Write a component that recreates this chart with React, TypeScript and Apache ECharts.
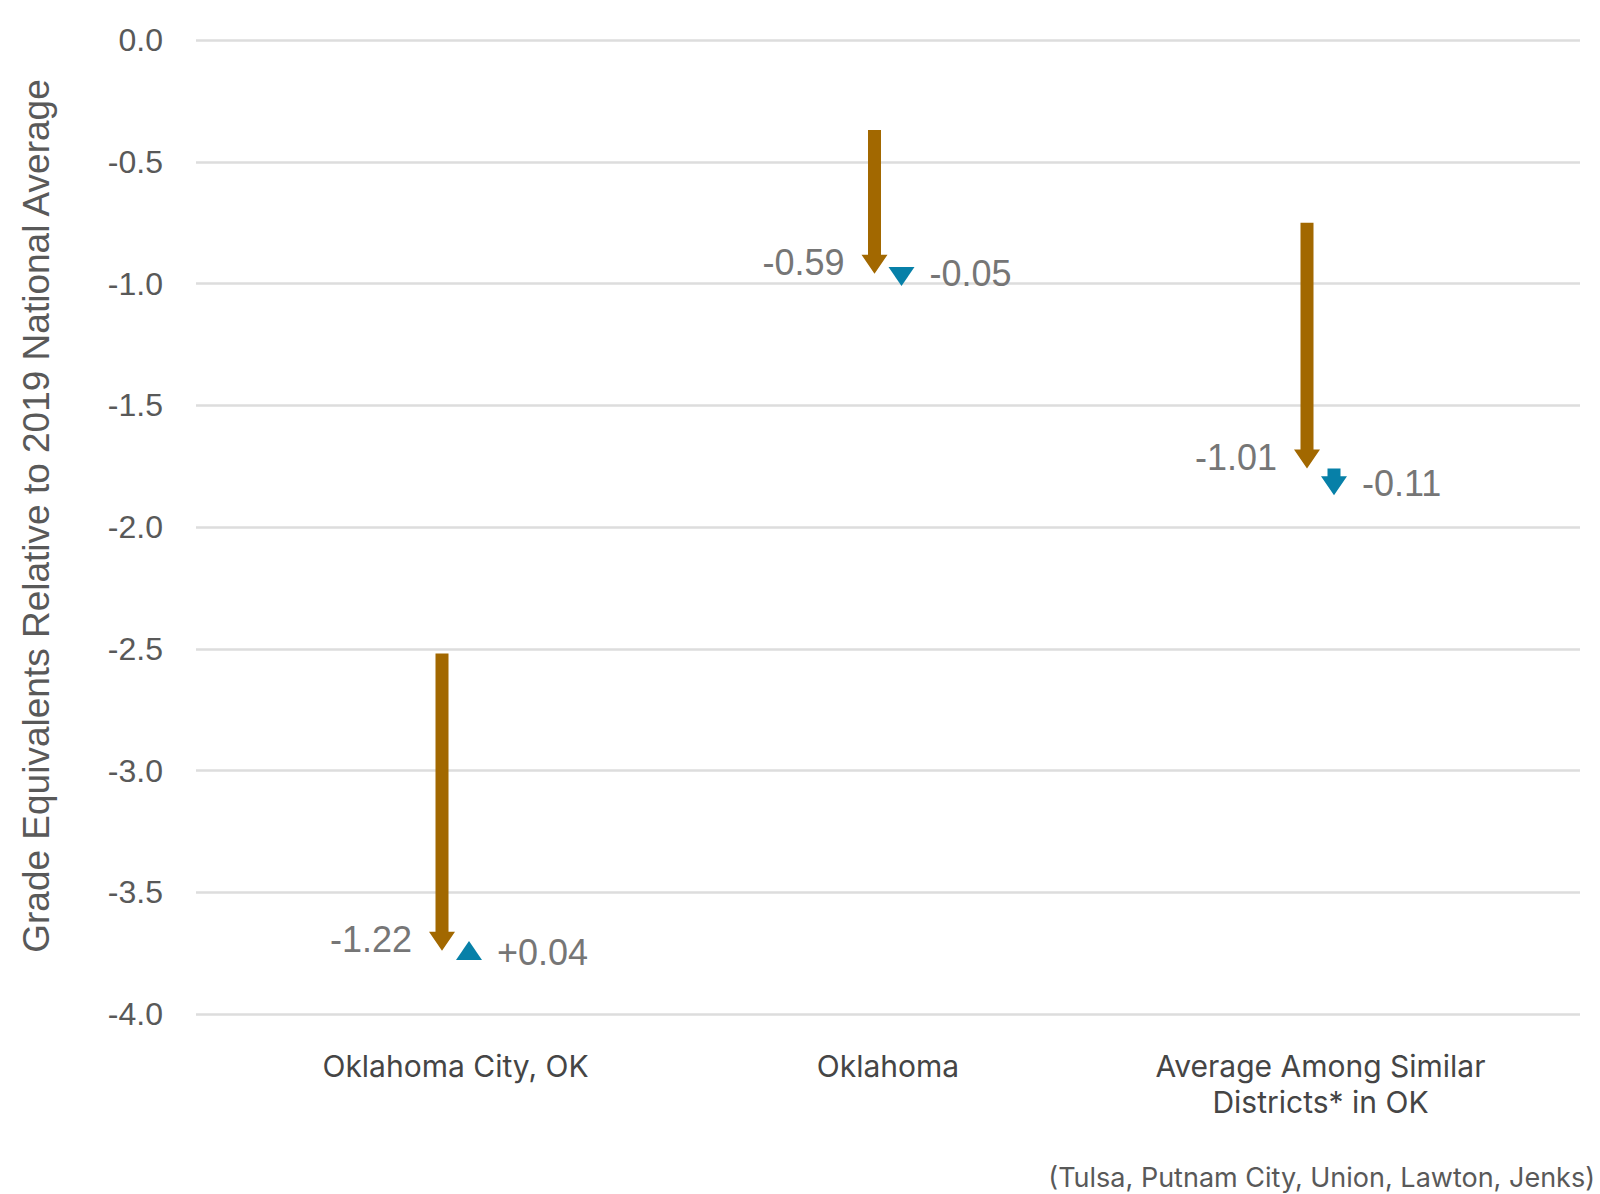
import React, { useEffect, useRef } from "react";
import * as echarts from "echarts";

const categories = ["Oklahoma City, OK", "Oklahoma", "Average Among Similar\nDistricts* in OK"];
const startValues = [-2.52, -0.37, -0.75];
const firstChange = [-1.22, -0.59, -1.01];
const secondChange = [0.04, -0.05, -0.11];
const yTicks = { min: -4, max: 0, interval: 0.5 };
const yAxisTitle = "Grade Equivalents Relative to 2019 National Average";
const footnote = "(Tulsa, Putnam City, Union, Lawton, Jenks)";

const BROWN = "#A26800";
const BLUE = "#0780A8";

function fmtChange(v: number, plus: boolean) {
  return (plus && v > 0 ? "+" : "") + v.toFixed(2);
}

function makeRenderer(offset: number, color: string, labelSide: "left" | "right", plus: boolean) {
  return (params: any, api: any) => {
    const idx = api.value(0);
    const s = api.value(1);
    const e = api.value(2);
    const chg = api.value(3);
    const p0 = api.coord([idx, s]);
    const p1 = api.coord([idx, e]);
    const x = p0[0] + offset;
    const ys = p0[1];
    const ye = p1[1];
    const dir = ye >= ys ? 1 : -1;
    const w = 13;
    const H = 26;
    const L = 19;
    const yb = ye - dir * L;
    let points: number[][];
    if (Math.abs(ye - ys) > L) {
      points = [
        [x - w / 2, ys],
        [x + w / 2, ys],
        [x + w / 2, yb],
        [x + H / 2, yb],
        [x, ye],
        [x - H / 2, yb],
        [x - w / 2, yb],
      ];
    } else {
      points = [
        [x - H / 2, yb],
        [x, ye],
        [x + H / 2, yb],
      ];
    }
    const labelX = labelSide === "left" ? x - 30 : x + 28;
    const labelY = ye - dir * (labelSide === "left" ? 11 : 12);
    return {
      type: "group",
      children: [
        { type: "polygon", shape: { points }, style: { fill: color } },
        {
          type: "text",
          style: {
            text: fmtChange(chg, plus),
            x: labelX,
            y: labelY,
            align: labelSide === "left" ? "right" : "left",
            verticalAlign: "middle",
            fill: "#767676",
            fontSize: 36,
            fontFamily: "Liberation Sans, Arial, sans-serif",
          },
        },
      ],
    };
  };
}

export default function App() {
  const ref = useRef<HTMLDivElement>(null);
  useEffect(() => {
    document.body.style.margin = "0";
    if (!ref.current) return;
    const chart = echarts.init(ref.current, undefined, { renderer: "svg" });
    const brownData = categories.map((_, i) => [i, startValues[i], startValues[i] + firstChange[i], firstChange[i]]);
    const blueData = categories.map((_, i) => {
      const s = startValues[i] + firstChange[i];
      return [i, s, s + secondChange[i], secondChange[i]];
    });
    chart.setOption({
      animation: false,
      grid: { left: 196, right: 20, top: 40, bottom: 180, containLabel: false },
      xAxis: {
        type: "value",
        min: -0.6,
        max: 2.6,
        interval: 0.2,
        axisLine: { show: false },
        axisTick: { show: false },
        splitLine: { show: false },
        axisLabel: {
          margin: 34,
          interval: 0,
          fontSize: 30,
          lineHeight: 36,
          fontFamily: "Inter, sans-serif",
          color: "#454545",
          formatter: (v: number) => {
            const r = Math.round(v);
            if (Math.abs(v - r) > 1e-6 || r < 0 || r >= categories.length) return "";
            return categories[r];
          },
        },
      },
      yAxis: {
        type: "value",
        min: yTicks.min,
        max: yTicks.max,
        interval: yTicks.interval,
        name: yAxisTitle,
        nameLocation: "middle",
        nameGap: 141,
        nameTextStyle: {
          fontSize: 37,
          color: "#595959",
          fontFamily: "Liberation Sans, Arial, sans-serif",
          padding: [0, 0, 0, 22],
        },
        axisLine: { show: false },
        axisTick: { show: false },
        splitLine: { lineStyle: { color: "#dddddd", width: 2.5 } },
        axisLabel: {
          margin: 33,
          fontSize: 32,
          color: "#595959",
          fontFamily: "Liberation Sans, Arial, sans-serif",
          formatter: (v: number) => v.toFixed(1),
        },
      },
      series: [
        {
          type: "custom",
          name: "Change 1",
          renderItem: makeRenderer(-13.5, BROWN, "left", false),
          data: brownData,
          encode: { x: 0, y: [1, 2] },
          clip: false,
        },
        {
          type: "custom",
          name: "Change 2",
          renderItem: makeRenderer(13.5, BLUE, "right", true),
          data: blueData,
          encode: { x: 0, y: [1, 2] },
          clip: false,
        },
      ],
      graphic: [
        {
          type: "text",
          x: 1595,
          y: 1177,
          style: {
            text: footnote,
            align: "right",
            verticalAlign: "middle",
            fontSize: 27,
            fill: "#595959",
            fontFamily: "Inter, sans-serif",
          },
        },
      ],
    });
    return () => chart.dispose();
  }, []);
  return <div ref={ref} style={{ width: 1600, height: 1194 }} />;
}
